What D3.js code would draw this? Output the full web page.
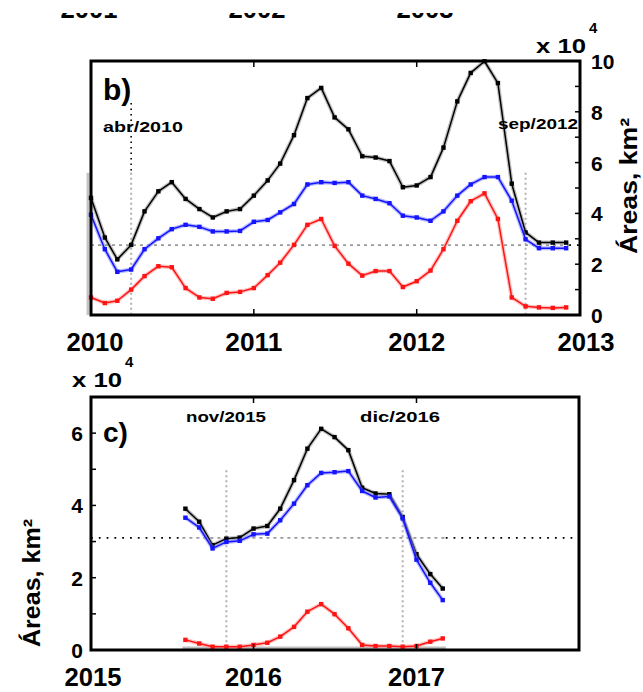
<!DOCTYPE html>
<html><head><meta charset="utf-8">
<script src="https://cdn.jsdelivr.net/npm/d3@7"></script>
<style>
body{margin:0;background:#fff}
svg{display:block;background:#fff}
text{font-family:"Liberation Sans",Arial,sans-serif;font-weight:bold;fill:#000}
</style>
</head><body><svg id="chart" width="643" height="692"></svg>
<script>
// Monthly flooded areas (x 10^4 km2): total (black), class 1 (blue), class 2 (red)
const startB = new Date(2010, 0, 1), endB = new Date(2013, 0, 1);
const blackB = [4.61,3.05,2.19,2.76,4.08,4.87,5.23,4.57,4.17,3.84,4.08,4.17,4.70,5.30,5.96,7.08,8.54,8.94,7.78,7.31,6.25,6.20,6.06,5.03,5.10,5.43,6.59,8.41,9.53,9.99,9.13,5.17,3.25,2.85,2.85,2.85];
const blueB  = [3.95,2.59,1.70,1.79,2.59,3.02,3.38,3.55,3.47,3.29,3.29,3.31,3.67,3.74,4.04,4.37,5.14,5.23,5.20,5.23,4.70,4.57,4.40,3.91,3.84,3.71,4.08,4.70,5.14,5.43,5.43,4.50,2.98,2.63,2.63,2.63];
const redB   = [0.69,0.47,0.56,1.00,1.53,1.92,1.88,1.06,0.69,0.64,0.87,0.91,1.06,1.57,2.06,2.76,3.55,3.78,2.72,2.02,1.55,1.73,1.73,1.10,1.33,1.75,2.59,3.71,4.48,4.79,3.78,0.69,0.34,0.30,0.28,0.30];
const thresholdB = 2.75;
const markersB = [{date: new Date(2010, 3, 1), label: "abr/2010"}, {date: new Date(2012, 8, 1), label: "sep/2012"}];
const yearTicksB = [2010, 2011, 2012, 2013];

const startC = new Date(2015, 7, 1), endC = new Date(2017, 3, 1);
const blackC = [3.91,3.55,2.90,3.08,3.11,3.36,3.43,3.91,4.70,5.57,6.12,5.89,5.53,4.49,4.33,4.31,3.68,2.65,2.10,1.70];
const blueC  = [3.66,3.39,2.81,2.99,3.02,3.20,3.22,3.59,4.05,4.56,4.90,4.92,4.95,4.40,4.22,4.25,3.64,2.50,1.86,1.38];
const redC   = [0.28,0.18,0.09,0.09,0.09,0.14,0.20,0.37,0.64,1.06,1.27,0.99,0.60,0.14,0.11,0.11,0.09,0.11,0.23,0.32];
const thresholdC = 3.1;
const markersC = [{date: new Date(2015, 10, 1), label: "nov/2015"}, {date: new Date(2016, 11, 1), label: "dic/2016"}];
const yearTicksC = [2015, 2016, 2017];

// Year labels of the panel above (only their lower edge shows)
const yearLabelsA = ["2001", "2002", "2003"];

const svg = d3.select("#chart");

const seriesStyle = [
  {key: "black", core: "#000000", halo: "#8a8a8a"},
  {key: "blue",  core: "#1414ff", halo: "#8080ff"},
  {key: "red",   core: "#ff1414", halo: "#ff9090"}
];

function drawPanel(p) {
  const g = svg.append("g");
  const months = d3.timeMonth.range(p.start, p.end);
  const x = d3.scaleTime().domain([new Date(p.yearTicks[0], 0, 1), new Date(p.xMaxYear, 0, 1)]).range([p.x0, p.x1]);
  const y = d3.scaleLinear().domain([0, p.yMax]).range([p.y1, p.y0]);

  // grey overlay frame: vertical guide lines and baseline
  const gTop = y(p.overlayTop);
  const oxL = x(months[0]) - 3, oxR = x(months[months.length - 1]) + 3;
  if (p.overlayLeft) {
    g.append("line").attr("x1", oxL).attr("x2", oxL).attr("y1", gTop).attr("y2", p.y1)
      .attr("stroke", "#c4c4c4").attr("stroke-width", 3);
  }
  if (p.overlayBase) {
    g.append("line").attr("x1", oxL).attr("x2", oxR).attr("y1", p.y1 - 2).attr("y2", p.y1 - 2)
      .attr("stroke", "#bdbdbd").attr("stroke-width", 3);
  }
  p.markers.forEach(m => {
    const mx = x(m.date);
    g.append("line").attr("x1", mx).attr("x2", mx).attr("y1", gTop).attr("y2", p.y1)
      .attr("stroke", "#b0b0b0").attr("stroke-width", 2).attr("stroke-dasharray", "2,3");
    if (m.blackTop != null) {
      g.append("line").attr("x1", mx).attr("x2", mx).attr("y1", m.blackTop).attr("y2", gTop)
        .attr("stroke", "#000").attr("stroke-width", 1.6).attr("stroke-dasharray", "1.5,4");
    }
  });

  // threshold line: black dots outside the overlay, grey dashes inside
  const ty = y(p.threshold);
  if (oxL > p.x0) g.append("line").attr("x1", p.x0).attr("x2", oxL).attr("y1", ty).attr("y2", ty)
      .attr("stroke", "#000").attr("stroke-width", 1.8).attr("stroke-dasharray", "1.8,6");
  g.append("line").attr("x1", Math.max(oxL, p.x0)).attr("x2", oxR).attr("y1", ty).attr("y2", ty)
      .attr("stroke", "#9a9a9a").attr("stroke-width", 1.8).attr("stroke-dasharray", "3,4");
  g.append("line").attr("x1", oxR).attr("x2", p.x1).attr("y1", ty).attr("y2", ty)
      .attr("stroke", "#000").attr("stroke-width", 1.8).attr("stroke-dasharray", "1.8,6");

  // series
  const line = d3.line().x(d => x(d.date)).y(d => y(d.v));
  p.series.forEach((vals, si) => {
    const st = seriesStyle[si];
    const data = vals.map((v, i) => ({date: months[i], v}));
    g.append("path").datum(data).attr("d", line).attr("fill", "none")
      .attr("stroke", st.halo).attr("stroke-width", 4).attr("stroke-opacity", 0.55).attr("stroke-linejoin", "round");
    g.append("path").datum(data).attr("d", line).attr("fill", "none")
      .attr("stroke", st.core).attr("stroke-width", 1.5).attr("stroke-linejoin", "round");
    g.selectAll(null).data(data).join("rect")
      .attr("x", d => x(d.date) - 2.2).attr("y", d => y(d.v) - 2.2)
      .attr("width", 4.4).attr("height", 4.4).attr("fill", st.core);
  });

  // frame
  g.append("rect").attr("x", p.x0).attr("y", p.y0).attr("width", p.x1 - p.x0).attr("height", p.y1 - p.y0)
    .attr("fill", "none").attr("stroke", "#000").attr("stroke-width", 3);

  // inward year ticks on top and bottom
  const inner = p.yearTicks.slice(1).filter(yr => yr < p.xMaxYear);
  inner.forEach(yr => {
    const xx = x(new Date(yr, 0, 1));
    g.append("line").attr("x1", xx).attr("x2", xx).attr("y1", p.y1).attr("y2", p.y1 - 6).attr("stroke", "#000").attr("stroke-width", 1.5);
    g.append("line").attr("x1", xx).attr("x2", xx).attr("y1", p.y0).attr("y2", p.y0 + 6).attr("stroke", "#000").attr("stroke-width", 1.5);
  });

  // year labels
  p.yearTicks.forEach((yr, i) => {
    g.append("text").attr("x", x(new Date(yr, 0, 1)) + (p.yearDx[i] || 0)).attr("y", p.y1 + 36)
      .attr("text-anchor", "middle").attr("font-size", 25)
      .attr("textLength", 57).attr("lengthAdjust", "spacingAndGlyphs").text(String(yr));
  });

  // value axis (right for b, left for c), inward ticks at each unit
  const vTicks = d3.range(0, p.yMax + 1);
  const ax = p.axisRight ? p.x1 : p.x0;
  const dir = p.axisRight ? -1 : 1;
  vTicks.forEach(v => {
    g.append("line").attr("x1", ax).attr("x2", ax + dir * 5).attr("y1", y(v)).attr("y2", y(v))
      .attr("stroke", "#000").attr("stroke-width", 1.5);
    if (v % 2 === 0 && v <= p.yLabelMax) {
      g.append("text").attr("x", p.axisRight ? ax + 11 : ax - 8).attr("y", y(v) + 8)
        .attr("text-anchor", p.axisRight ? "start" : "end").attr("font-size", 21).text(String(v));
    }
  });

  // panel letter and marker labels
  g.append("text").attr("x", p.x0 + 12).attr("y", p.letterY).attr("font-size", p.letterSize).text(p.letter);
  p.markers.forEach(m => {
    g.append("text").attr("x", m.lx).attr("y", m.ly).attr("font-size", 15)
      .attr("textLength", 80).attr("lengthAdjust", "spacingAndGlyphs").text(m.label);
  });

  return {x, y};
}

// Panel b) 2010-2012
drawPanel({
  x0: 91, x1: 580, y0: 61, y1: 315, yMax: 10, yLabelMax: 10, xMaxYear: 2013,
  start: startB, end: endB, yearTicks: yearTicksB, yearDx: [4, 0, 0, 6],
  series: [blackB, blueB, redB], threshold: thresholdB, overlayTop: 5.6,
  overlayLeft: true, overlayBase: false, axisRight: true,
  markers: [
    Object.assign({}, markersB[0], {lx: 103, ly: 132, blackTop: 103}),
    Object.assign({}, markersB[1], {lx: 498, ly: 129, blackTop: null})
  ],
  letter: "b)", letterY: 100, letterSize: 30
});

// Panel c) 2015-2017
drawPanel({
  x0: 91, x1: 579, y0: 397, y1: 650, yMax: 7, yLabelMax: 6, xMaxYear: 2018,
  start: startC, end: endC, yearTicks: yearTicksC, yearDx: [2, 0, 0],
  series: [blackC, blueC, redC], threshold: thresholdC, overlayTop: 4.97,
  overlayLeft: false, overlayBase: true, axisRight: false,
  markers: [
    Object.assign({}, markersC[0], {lx: 186, ly: 422, blackTop: null}),
    Object.assign({}, markersC[1], {lx: 360, ly: 422, blackTop: null})
  ],
  letter: "c)", letterY: 442, letterSize: 28
});

// axis exponents and titles
function exponent(xp, yp) {
  svg.append("text").attr("x", xp).attr("y", yp).attr("font-size", 21)
    .attr("textLength", 50).attr("lengthAdjust", "spacingAndGlyphs").text("x 10");
  svg.append("text").attr("x", xp + 53).attr("y", yp - 20).attr("font-size", 15).text("4");
}
exponent(536, 53);
exponent(72, 387);

svg.append("text").attr("transform", "translate(637,186) rotate(-90)")
  .attr("text-anchor", "middle").attr("font-size", 24)
  .attr("textLength", 136).attr("lengthAdjust", "spacingAndGlyphs").text("Áreas, km²");
svg.append("text").attr("transform", "translate(40,583) rotate(-90)")
  .attr("text-anchor", "middle").attr("font-size", 24)
  .attr("textLength", 128).attr("lengthAdjust", "spacingAndGlyphs").text("Áreas, km²");

// cut-off year labels along the top edge
svg.append("clipPath").attr("id", "topcut").append("rect").attr("x", 0).attr("y", 13).attr("width", 643).attr("height", 20);
const xA = d3.scalePoint().domain(yearLabelsA).range([89, 425]);
svg.append("g").attr("clip-path", "url(#topcut)").selectAll("text").data(yearLabelsA).join("text")
  .attr("x", d => xA(d)).attr("y", 18).attr("text-anchor", "middle").attr("font-size", 25)
  .attr("textLength", 57).attr("lengthAdjust", "spacingAndGlyphs").text(d => d);
</script></body></html>
